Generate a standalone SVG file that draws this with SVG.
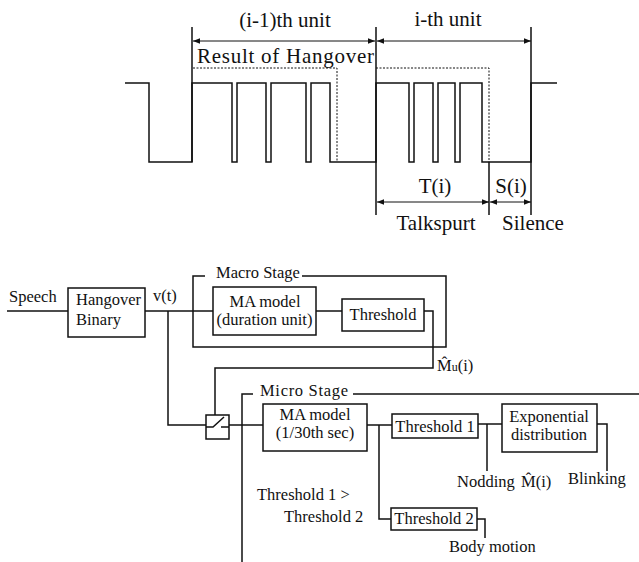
<svg xmlns="http://www.w3.org/2000/svg" width="639" height="562" viewBox="0 0 639 562" font-family="'Liberation Serif', 'DejaVu Serif', serif">
<style>
text{font-family:'Liberation Serif','DejaVu Serif',serif;fill:#111}
.big{font-size:21px}
.sm{font-size:16.5px}
.ln{fill:none;stroke:#111;stroke-width:1.5}
.box{fill:#fff;stroke:#111;stroke-width:1.5}
.dot{fill:none;stroke:#111;stroke-width:1;stroke-dasharray:2 1.5}
.dim{fill:none;stroke:#111;stroke-width:1;marker-start:url(#ah);marker-end:url(#ah)}
.mid{text-anchor:middle}
</style>
<defs>
<marker id="ah" viewBox="0 0 10 10" refX="10" refY="5" markerWidth="7" markerHeight="7" markerUnits="userSpaceOnUse" orient="auto-start-reverse">
<path d="M0,1 L10,5 L0,9 Z" fill="#111"/>
</marker>
</defs>

<g id="timing">
<path class="ln" d="M125,83 H149 V162 H192 V83 H232 V162 H237 V83 H266 V162 H271 V83 H306 V162 H311 V83 H330 V162 H376 V83 H409 V162 H414 V83 H433 V162 H438 V83 H455 V162 H460 V83 H482 V162 H531 V83 H557"/>
<path class="ln" d="M192,27 V162 M376,27 V215 M531,27 V215 M489,162 V215"/>
<path class="dot" d="M193,68 H337 V162 M376,68 H489 V162"/>
<path class="dim" d="M193,41 H375"/>
<path class="dim" d="M377,41 H531"/>
<path class="dim" d="M377,202 H489"/>
<path class="dim" d="M490,202 H531"/>
<text class="big mid" x="285" y="27">(i-1)th unit</text>
<text class="big mid" x="448" y="26">i-th unit</text>
<text class="big" x="197" y="63" textLength="177">Result of Hangover</text>
<text class="big mid" x="435" y="193">T(i)</text>
<text class="big mid" x="511" y="193">S(i)</text>
<text class="big mid" x="436" y="230">Talkspurt</text>
<text class="big mid" x="533" y="230">Silence</text>
</g>

<g id="connectors">
<path class="ln" d="M7,311 H68"/>
<path class="ln" d="M145,311 H213"/>
<path class="ln" d="M168,311 V425 H206"/>
<path class="ln" d="M316,311 H342"/>
<path class="ln" d="M424,311 H433 V368 H215 V415"/>
<path class="ln" d="M229,425 H263"/>
<path class="ln" d="M367,425 H392"/>
<path class="ln" d="M379,425 V519 H391"/>
<path class="ln" d="M478,424 H502"/>
<path class="ln" d="M487,424 V471"/>
<path class="ln" d="M597,424 H607 V471"/>
<path class="ln" d="M477,519 H485 V538"/>
</g>

<g id="speech"><text class="sm" x="9" y="302">Speech</text></g>

<g id="hangover">
<rect class="box" x="68" y="288" width="77" height="49"/>
<text class="sm" x="76" y="305">Hangover</text>
<text class="sm" x="76" y="325">Binary</text>
</g>

<g id="vt"><text class="sm" x="153" y="301">v(t)</text></g>

<g id="macro-stage">
<path class="ln" d="M205,276 H193 V347 H446 V276 H302"/>
<text class="sm" x="216" y="278">Macro Stage</text>
</g>

<g id="ma-macro">
<rect class="box" x="213" y="287" width="103" height="48"/>
<text class="sm mid" x="265" y="307">MA model</text>
<text class="sm mid" x="264.5" y="325">(duration unit)</text>
</g>

<g id="threshold-macro">
<rect class="box" x="342" y="299" width="82" height="32"/>
<text class="sm mid" x="383" y="320">Threshold</text>
</g>

<g id="mu-label">
<text class="sm" x="437" y="371">M̂<tspan font-size="12">u</tspan>(i)</text>
</g>

<g id="switch">
<rect class="box" x="206" y="415" width="23" height="24"/>
<path class="ln" d="M206,427 H213 L224,417 M221,427 H229"/>
</g>

<g id="micro-stage">
<path class="ln" d="M253,394 H242 V562 M353,394 H639"/>
<text class="sm" x="260" y="396" textLength="88">Micro Stage</text>
</g>

<g id="ma-micro">
<rect class="box" x="263" y="404" width="104" height="47"/>
<text class="sm mid" x="315" y="420">MA model</text>
<text class="sm mid" x="315" y="438">(1/30th sec)</text>
</g>

<g id="threshold1">
<rect class="box" x="392" y="414" width="86" height="24"/>
<text class="sm mid" x="435" y="432">Threshold 1</text>
</g>

<g id="exponential">
<rect class="box" x="502" y="404" width="95" height="48"/>
<text class="sm mid" x="549" y="422">Exponential</text>
<text class="sm mid" x="549" y="440">distribution</text>
</g>

<g id="threshold2">
<rect class="box" x="391" y="508" width="86" height="22"/>
<text class="sm mid" x="434" y="524">Threshold 2</text>
</g>

<g id="labels">
<text class="sm" x="457" y="487">Nodding</text>
<text class="sm" x="521" y="487">M̂(i)</text>
<text class="sm" x="568" y="484">Blinking</text>
<text class="sm" x="257" y="500">Threshold 1 &gt;</text>
<text class="sm" x="284" y="522">Threshold 2</text>
<text class="sm" x="449" y="552">Body motion</text>
</g>
</svg>
